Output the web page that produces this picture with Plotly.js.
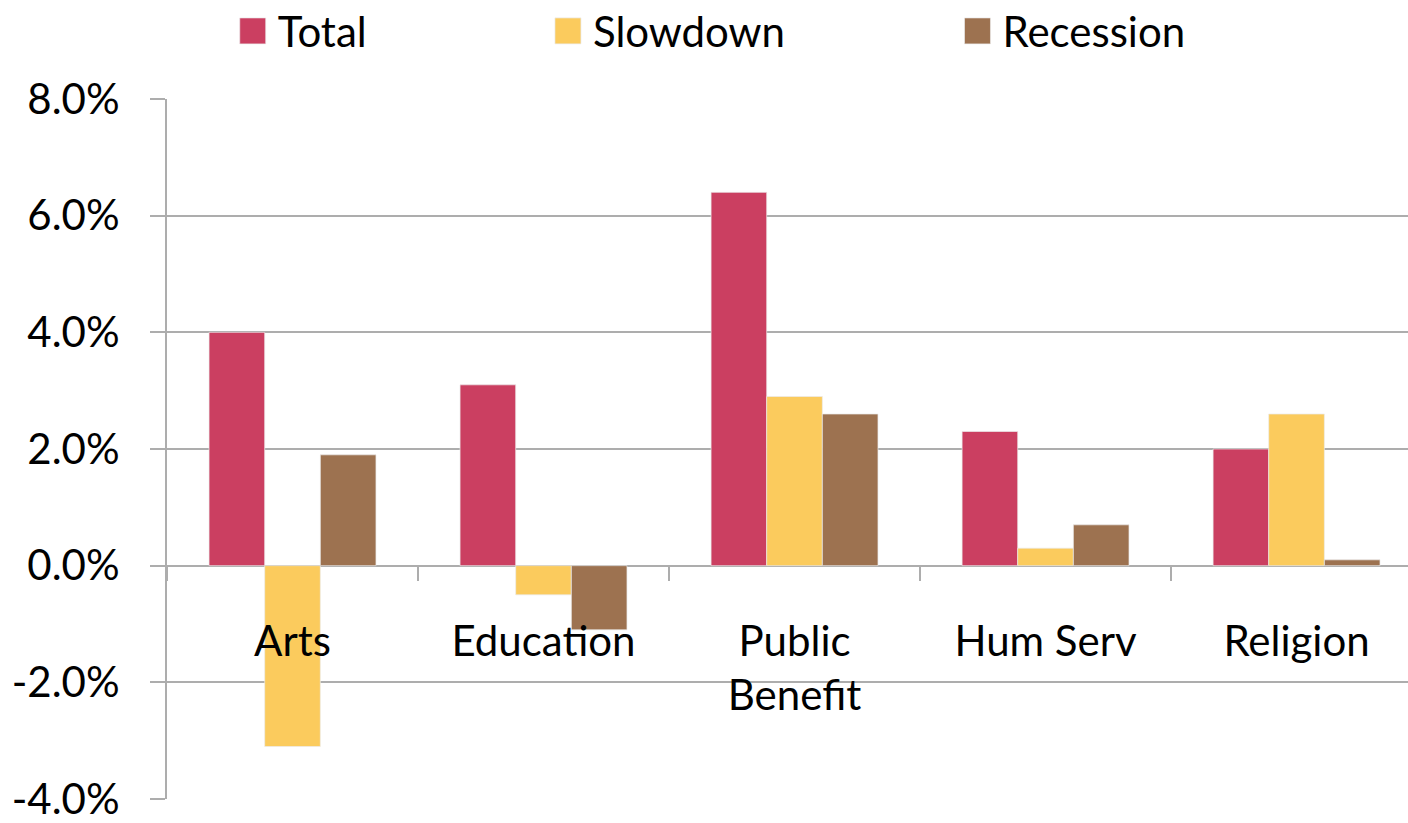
<!DOCTYPE html>
<html><head><meta charset="utf-8">
<script src="https://cdn.plot.ly/plotly-3.0.1.min.js"></script>
<style>html,body{margin:0;padding:0;background:#fff;}#chart{width:1408px;height:823px;}</style>
</head><body><div id="chart"></div>
<script>
const categories = ["Arts", "Education", "Public Benefit", "Hum Serv", "Religion"];
const categoryLabels = ["Arts", "Education", "Public<br>Benefit", "Hum Serv", "Religion"];
const seriesNames = ["Total", "Slowdown", "Recession"];
const totalValues = [4.0, 3.1, 6.4, 2.3, 2.0];
const slowdownValues = [-3.1, -0.5, 2.9, 0.3, 2.6];
const recessionValues = [1.9, -1.1, 2.6, 0.7, 0.1];
const yTickValues = [-4, -2, 0, 2, 4, 6, 8];
const yTickLabels = ["-4.0%", "-2.0%", "0.0%", "2.0%", "4.0%", "6.0%", "8.0%"];
const seriesColors = ["#CB3F61", "#FBCB5D", "#9D7250"];
const gridColor = "#ADADAD";

const seriesValues = [totalValues, slowdownValues, recessionValues];
const legendIds = ["legend", "legend2", "legend3"];
const data = seriesNames.map((name, i) => ({
  type: "bar",
  name: name,
  x: categories,
  y: seriesValues[i],
  legend: legendIds[i],
  marker: { color: seriesColors[i], line: { color: "rgba(235,235,235,0.7)", width: 1 } },
  hoverinfo: "skip"
}));

function legendAt(x) {
  return {
    orientation: "h", x: x, xanchor: "left", y: 1.097, yanchor: "middle",
    font: { family: "Lato, sans-serif", size: 42, color: "#000" },
    bgcolor: "rgba(0,0,0,0)", borderwidth: 0
  };
}

const layout = {
  width: 1408, height: 823,
  margin: { l: 167, r: 0, t: 99, b: 24, pad: 0, autoexpand: false },
  paper_bgcolor: "#fff", plot_bgcolor: "#fff",
  font: { family: "Lato, sans-serif", size: 42, color: "#000" },
  barmode: "group", bargap: 0.335, bargroupgap: 0,
  showlegend: true,
  legend: legendAt(0.057),
  legend2: legendAt(0.311),
  legend3: legendAt(0.641),
  xaxis: {
    type: "category", categoryorder: "array", categoryarray: categories,
    tickmode: "array", tickvals: categories, ticktext: categoryLabels,
    range: [-0.5, 4.444], anchor: "free", position: 1 / 3,
    showline: false, showgrid: false, zeroline: false,
    ticks: "outside", tickson: "boundaries", ticklen: 14, tickwidth: 2, tickcolor: gridColor,
    ticklabelstandoff: 47, fixedrange: true
  },
  yaxis: {
    range: [-4, 8], tickmode: "array", tickvals: yTickValues, ticktext: yTickLabels,
    showgrid: true, gridcolor: gridColor, gridwidth: 2,
    zeroline: true, zerolinecolor: gridColor, zerolinewidth: 2,
    showline: true, linecolor: gridColor, linewidth: 2,
    ticks: "outside", ticklen: 15, tickwidth: 2, tickcolor: gridColor,
    ticklabelstandoff: 22, fixedrange: true
  }
};

Plotly.newPlot("chart", data, layout, { staticPlot: true, displayModeBar: false }).then(gd => {
  gd.querySelectorAll(".legendpoints path").forEach(p => p.setAttribute("d", "M8,13H-18V-13H8Z"));
});
</script>
</body></html>
